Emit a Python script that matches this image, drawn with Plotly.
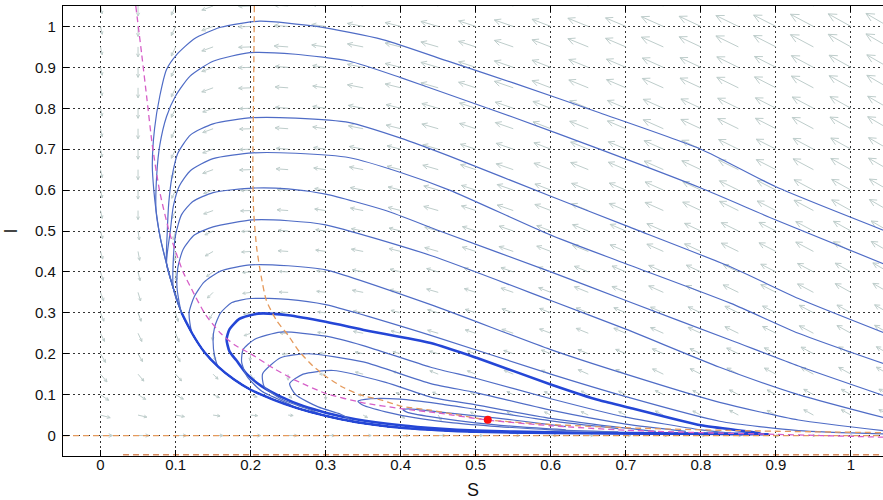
import math
import plotly.graph_objects as go

# ---------------- axes ----------------
X_RANGE = [-0.05, 1.0427]
Y_RANGE = [-0.05, 1.05]
X_TICKS = [0, 0.1, 0.2, 0.3, 0.4, 0.5, 0.6, 0.7, 0.8, 0.9, 1.0]
X_TICKTEXT = ["0", "0.1", "0.2", "0.3", "0.4", "0.5", "0.6", "0.7", "0.8", "0.9", "1"]
Y_TICKS = [0, 0.1, 0.2, 0.3, 0.4, 0.5, 0.6, 0.7, 0.8, 0.9, 1.0]
Y_TICKTEXT = ["0", "0.1", "0.2", "0.3", "0.4", "0.5", "0.6", "0.7", "0.8", "0.9", "1"]

# ---------------- trajectories (S, I) ----------------
# shared lower envelope along which the orbits return
env_s = [0.074, 0.080, 0.088, 0.097, 0.108, 0.122, 0.138, 0.157, 0.178, 0.200, 0.230,
         0.262, 0.300, 0.340, 0.400, 0.450, 0.500, 0.600, 0.700, 0.800, 0.890]
env_i = [0.550, 0.480, 0.420, 0.360, 0.300, 0.250, 0.205, 0.168, 0.137, 0.112, 0.088,
         0.067, 0.048, 0.033, 0.019, 0.013, 0.009, 0.006, 0.005, 0.004, 0.003]

c01_s = [1.043, 0.90, 0.80, 0.665, 0.55, 0.465, 0.376, 0.288, 0.212, 0.16, 0.125, 0.101, 0.088, 0.079, 0.072, 0.069, 0.071]
c01_i = [0.502, 0.608, 0.700, 0.789, 0.862, 0.914, 0.968, 1.000, 1.013, 0.998, 0.970, 0.930, 0.895, 0.830, 0.750, 0.660, 0.600]
c02_s = [1.043, 0.90, 0.80, 0.665, 0.55, 0.465, 0.40, 0.332, 0.26, 0.199, 0.15, 0.119, 0.10, 0.088, 0.079, 0.075]
c02_i = [0.420, 0.527, 0.605, 0.700, 0.778, 0.833, 0.875, 0.915, 0.932, 0.936, 0.915, 0.878, 0.830, 0.780, 0.710, 0.640]
c03_s = [1.043, 0.93, 0.84, 0.70, 0.60, 0.465, 0.40, 0.332, 0.26, 0.203, 0.15, 0.12, 0.103, 0.095, 0.091, 0.089]
c03_i = [0.252, 0.335, 0.412, 0.513, 0.585, 0.683, 0.727, 0.765, 0.776, 0.777, 0.762, 0.735, 0.690, 0.630, 0.570, 0.500]
c04_s = [1.043, 0.93, 0.84, 0.70, 0.60, 0.465, 0.40, 0.332, 0.26, 0.203, 0.15, 0.12, 0.105, 0.097, 0.093]
c04_i = [0.176, 0.250, 0.323, 0.420, 0.490, 0.600, 0.643, 0.679, 0.690, 0.691, 0.677, 0.648, 0.610, 0.560, 0.500]
c05_s = [1.043, 0.93, 0.84, 0.70, 0.60, 0.452, 0.38, 0.30, 0.25, 0.203, 0.15, 0.123, 0.108, 0.100, 0.097]
c05_i = [0.098, 0.170, 0.233, 0.330, 0.400, 0.500, 0.550, 0.590, 0.603, 0.605, 0.594, 0.572, 0.540, 0.490, 0.430]
c06_s = [1.043, 0.93, 0.825, 0.70, 0.60, 0.44, 0.30, 0.25, 0.203, 0.15, 0.125, 0.110, 0.103, 0.102]
c06_i = [0.044, 0.100, 0.167, 0.260, 0.330, 0.440, 0.515, 0.525, 0.527, 0.510, 0.490, 0.455, 0.410, 0.360]
c07_s = [1.043, 0.93, 0.825, 0.70, 0.60, 0.44, 0.30, 0.25, 0.20, 0.16, 0.138, 0.125, 0.118]
c07_i = [0.012, 0.038, 0.081, 0.150, 0.210, 0.320, 0.405, 0.415, 0.417, 0.402, 0.375, 0.340, 0.300]
c08_s = [1.043, 0.93, 0.825, 0.70, 0.60, 0.44, 0.30, 0.25, 0.20, 0.175, 0.160, 0.152, 0.150, 0.152]
c08_i = [0.004, 0.012, 0.035, 0.095, 0.150, 0.245, 0.320, 0.333, 0.335, 0.325, 0.300, 0.265, 0.230, 0.195]
c09_s = [0.88, 0.80, 0.709, 0.665, 0.60, 0.501, 0.44, 0.354, 0.30, 0.25, 0.21, 0.185, 0.172, 0.168, 0.172,
         0.181, 0.195, 0.215, 0.24, 0.27, 0.30, 0.34, 0.40, 0.45, 0.50, 0.60, 0.70, 0.80, 0.88]
c09_i = [0.005, 0.025, 0.066, 0.086, 0.125, 0.190, 0.226, 0.257, 0.278, 0.294, 0.298, 0.285, 0.260, 0.235, 0.205,
         0.184, 0.150, 0.120, 0.095, 0.072, 0.056, 0.040, 0.025, 0.017, 0.012, 0.008, 0.006, 0.005, 0.005]
c10_s = [0.84, 0.80, 0.70, 0.60, 0.50, 0.44, 0.35, 0.30, 0.24, 0.205, 0.190, 0.188, 0.195, 0.215, 0.25]
c10_i = [0.006, 0.014, 0.045, 0.090, 0.140, 0.167, 0.220, 0.243, 0.253, 0.235, 0.210, 0.180, 0.145, 0.108, 0.078]
c11_s = [0.78, 0.70, 0.60, 0.50, 0.44, 0.35, 0.277, 0.24, 0.216, 0.218, 0.24, 0.28]
c11_i = [0.010, 0.028, 0.062, 0.105, 0.127, 0.180, 0.200, 0.190, 0.151, 0.120, 0.090, 0.062]
c12_s = [0.74, 0.70, 0.60, 0.50, 0.44, 0.38, 0.31, 0.27, 0.252, 0.26, 0.29, 0.32]
c12_i = [0.010, 0.018, 0.042, 0.075, 0.094, 0.130, 0.159, 0.150, 0.127, 0.100, 0.070, 0.052]
c13_s = [0.69, 0.60, 0.50, 0.45, 0.40, 0.36, 0.343, 0.35, 0.38, 0.42, 0.47, 0.53, 0.60, 0.69]
c13_i = [0.017, 0.036, 0.064, 0.078, 0.089, 0.090, 0.084, 0.074, 0.058, 0.043, 0.031, 0.022, 0.014, 0.009]
c14_s = [0.62, 0.55, 0.50, 0.45, 0.41, 0.403, 0.41, 0.45, 0.50, 0.56, 0.62]
c14_i = [0.022, 0.038, 0.048, 0.058, 0.065, 0.063, 0.056, 0.043, 0.031, 0.021, 0.014]

# index of the envelope point where each orbit joins it (None = closed on its own)
JOIN = {"c01": 0, "c02": 0, "c03": 2, "c04": 2, "c05": 3, "c06": 4, "c07": 5, "c08": 7,
        "c09": None, "c10": 11, "c11": 12, "c12": 13, "c13": None, "c14": None}

# ---------------- nullclines ----------------
mag_s = [0.047, 0.055, 0.062, 0.069, 0.079, 0.092, 0.101, 0.110, 0.125, 0.140, 0.160, 0.180, 0.200,
         0.230, 0.260, 0.300, 0.350, 0.400, 0.450, 0.515, 0.600, 0.700, 0.800, 0.900, 0.960, 1.043]
mag_i = [1.05, 0.93, 0.82, 0.71, 0.595, 0.495, 0.445, 0.40, 0.345, 0.295, 0.25, 0.22, 0.20,
         0.165, 0.135, 0.103, 0.08, 0.066, 0.055, 0.038, 0.024, 0.013, 0.007, 0.003, 0.0, -0.004]
org_s = [0.205, 0.204, 0.203, 0.204, 0.208, 0.214, 0.221, 0.235, 0.25, 0.265, 0.283, 0.30, 0.323,
         0.345, 0.376, 0.40, 0.44, 0.515, 0.60, 0.70, 0.85, 1.043]
org_i = [1.05, 0.85, 0.65, 0.55, 0.46, 0.39, 0.33, 0.28, 0.245, 0.205, 0.17, 0.145, 0.118,
         0.10, 0.086, 0.072, 0.062, 0.0385, 0.027, 0.019, 0.012, 0.007]
org0_s = [-0.05, 1.043]
org0_i = [0.0, 0.0]
orgneg_s = [0.03, 1.043]
orgneg_i = [-0.047, -0.047]

# equilibrium
eq_s = [0.516]
eq_i = [0.0385]

# ---------------- direction field (screen angle in degrees, length in px) ----------------
ARROW_S = [round(0.05 * k, 2) for k in range(22)]
ARROW_I = [round(0.05 * k, 2) for k in range(22)]
RIGHT = [166, 164, 162, 161, 159, 158, 157, 156, 155, 154, 153, 152, 151, 150]
ANG_000 = [0] * 22
ANG_005 = [345, 347, 350, 352, 355, 355, 340, 330, 320, 300, 150, 152, 153, 154, 154, 153, 153, 152, 152, 151, 151, 150]
ANG_010 = [325, 328, 330, 335, 340, 315, 270, 185, 158, 156, 156, 155, 155, 154, 154, 153, 153, 152, 152, 151, 151, 150]
ANG_015 = [310, 310, 312, 315, 300, 270, 180, 165, 160, 158, 158, 157, 157, 156, 155, 154, 153, 152, 152, 151, 151, 150]
ANG_020 = [300, 300, 300, 290, 265, 185, 172, 168] + RIGHT
ANG_025 = [296, 295, 293, 265, 200, 180, 173, 169] + RIGHT
ANG_030 = [292, 290, 287, 240, 192, 178, 173, 169] + RIGHT
ANG_035 = [290, 286, 282, 225, 188, 178, 173, 169] + RIGHT
ANG_040 = [288, 283, 275, 215, 185, 177, 172, 169] + RIGHT
ANG_045 = [286, 280, 265, 210, 184, 176, 172, 169] + RIGHT
ANG_050 = [285, 278, 255, 205, 183, 176, 172, 169] + RIGHT
ANG_HIGH = [282, 270, 245, 200, 182, 176, 172, 169] + RIGHT
ANG_ROWS = [ANG_000, ANG_005, ANG_010, ANG_015, ANG_020, ANG_025, ANG_030, ANG_035, ANG_040,
            ANG_045, ANG_050] + [ANG_HIGH] * 11

LEN_ROWS = [
    [12, 11, 10, 9, 8, 7, 6, 5, 4, 3, 2],
    [10, 9, 7, 5, 5, 6, 7, 8, 9, 10, 11],
    [10, 9, 7, 6, 8, 9, 10, 11, 12, 13, 14],
    [9, 9, 7, 8, 10, 11, 12, 13, 14, 15, 16],
    [9, 9, 8, 9, 11, 12, 13, 15, 16, 17, 18],
    [8, 9, 9, 10, 12, 14, 15, 17, 18, 19, 20],
    [8, 9, 10, 11, 13, 15, 17, 18, 20, 21, 22],
    [8, 10, 11, 12, 14, 16, 18, 19, 21, 22, 23],
    [8, 10, 11, 13, 15, 17, 19, 20, 22, 23, 24],
    [8, 10, 12, 13, 16, 18, 20, 21, 23, 24, 25],
    [8, 10, 12, 14, 16, 18, 20, 22, 24, 25, 26],
]

# ---------------- figure ----------------
W, H = 883, 500
M_L, M_R, M_T, M_B = 63, 0, 6, 44
PX_S = (W - M_L - M_R) / (X_RANGE[1] - X_RANGE[0])
PX_I = (H - M_T - M_B) / (Y_RANGE[1] - Y_RANGE[0])

fig = go.Figure()

# direction field arrows
qx, qy = [], []
for r, iv in enumerate(ARROW_I):
    for c, sv in enumerate(ARROW_S):
        a = math.radians(ANG_ROWS[r][c])
        L = LEN_ROWS[min(10, int(iv * 10 + 0.5))][min(10, int(sv * 10 + 0.5))]
        x1 = sv + L * math.cos(a) / PX_S
        y1 = iv + L * math.sin(a) / PX_I
        qx += [sv, x1, None]
        qy += [iv, y1, None]
        h = max(3.0, 0.35 * L)
        for d in (26, -26):
            b = a + math.pi + math.radians(d)
            qx += [x1, x1 + h * math.cos(b) / PX_S, None]
            qy += [y1, y1 + h * math.sin(b) / PX_I, None]
fig.add_trace(go.Scatter(x=qx, y=qy, mode="lines", hoverinfo="skip",
                         line=dict(color="rgb(190,205,203)", width=1)))

curves = {
    "c01": (c01_s, c01_i), "c02": (c02_s, c02_i), "c03": (c03_s, c03_i), "c04": (c04_s, c04_i),
    "c05": (c05_s, c05_i), "c06": (c06_s, c06_i), "c07": (c07_s, c07_i), "c08": (c08_s, c08_i),
    "c09": (c09_s, c09_i), "c10": (c10_s, c10_i), "c11": (c11_s, c11_i), "c12": (c12_s, c12_i),
    "c13": (c13_s, c13_i), "c14": (c14_s, c14_i),
}
for name, (cs, ci) in curves.items():
    j = JOIN[name]
    xs, ys = list(cs), list(ci)
    if j is not None:
        xs += env_s[j:]
        ys += env_i[j:]
    thick = name == "c09"
    fig.add_trace(go.Scatter(
        x=xs, y=ys, mode="lines", hoverinfo="skip",
        line=dict(color="#2446d6" if thick else "#4f6cc6", width=2.6 if thick else 1.2,
                  shape="spline", smoothing=0.6)))

# dense band where orbits pile up
fig.add_trace(go.Scatter(x=env_s[4:], y=env_i[4:], mode="lines", hoverinfo="skip",
                         line=dict(color="#2446d6", width=2.4, shape="spline", smoothing=0.6)))

# nullclines
dash = "6px,4px"
fig.add_trace(go.Scatter(x=org0_s, y=org0_i, mode="lines", hoverinfo="skip",
                         line=dict(color="#e59a5c", width=1.3, dash=dash)))
fig.add_trace(go.Scatter(x=orgneg_s, y=orgneg_i, mode="lines", hoverinfo="skip",
                         line=dict(color="#d98a5c", width=1.6, dash=dash)))
fig.add_trace(go.Scatter(x=org_s, y=org_i, mode="lines", hoverinfo="skip",
                         line=dict(color="#e59a5c", width=1.3, dash=dash, shape="spline", smoothing=0.6)))
fig.add_trace(go.Scatter(x=mag_s, y=mag_i, mode="lines", hoverinfo="skip",
                         line=dict(color="#d65fc8", width=1.3, dash=dash, shape="spline", smoothing=0.6)))

# equilibrium
fig.add_trace(go.Scatter(x=eq_s, y=eq_i, mode="markers", hoverinfo="skip",
                         marker=dict(color="#ff1010", size=8, line=dict(width=0))))

font = dict(family="Liberation Sans, Arial, sans-serif", size=15, color="#111")
fig.update_layout(
    width=W, height=H, margin=dict(l=M_L, r=M_R, t=M_T, b=M_B, autoexpand=False),
    paper_bgcolor="white", plot_bgcolor="white", showlegend=False, font=font,
    xaxis=dict(range=X_RANGE, tickvals=X_TICKS, ticktext=X_TICKTEXT, ticks="inside", ticklen=6,
               tickcolor="black", showline=True, linecolor="black", linewidth=1.2, mirror="ticks",
               showgrid=True, gridcolor="#333", gridwidth=1, griddash="2px,3px", zeroline=False,
               automargin=False, title=dict(text="S", standoff=20), ticklabelstandoff=-5),
    yaxis=dict(range=Y_RANGE, tickvals=Y_TICKS, ticktext=Y_TICKTEXT, ticks="inside", ticklen=6,
               tickcolor="black", showline=True, linecolor="black", linewidth=1.2, mirror=False,
               showgrid=True, gridcolor="#333", gridwidth=1, griddash="2px,3px", zeroline=False,
               automargin=False, title=dict(text="I", standoff=12), ticklabelstandoff=3),
)

fig.write_html("out.html", config={"displayModeBar": False},
               post_script="document.body.style.margin='0';document.body.style.padding='0';")
